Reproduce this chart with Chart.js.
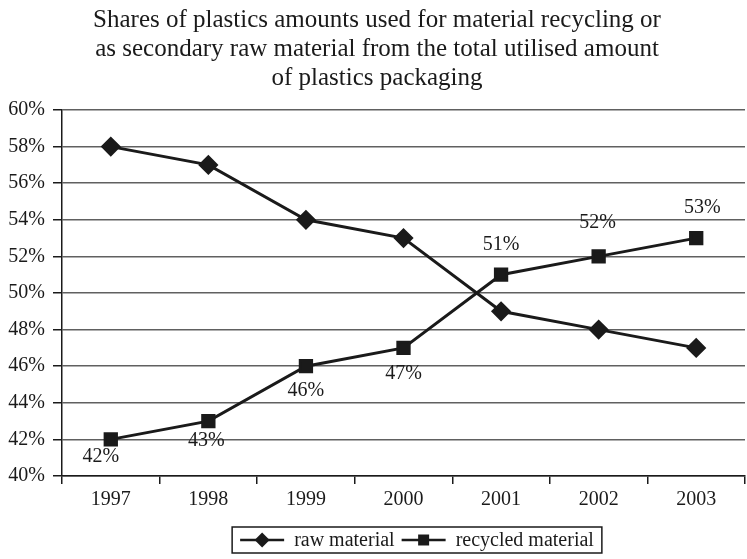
<!DOCTYPE html>
<html>
<head>
<meta charset="utf-8">
<script src="https://cdn.jsdelivr.net/npm/chart.js@4/dist/chart.umd.min.js"></script>
<style>
  html, body { margin: 0; padding: 0; background: #fff; overflow: hidden; }
  #wrap { width: 756px; height: 559px; position: relative; }
</style>
</head>
<body>
<div id="wrap"><canvas id="chart"></canvas></div>
<script>
// Years on the category axis
const years = ['1997', '1998', '1999', '2000', '2001', '2002', '2003'];
// Share (%) used as raw material
const rawMaterial = [58, 57, 54, 53, 49, 48, 47];
// Share (%) going to material recycling
const recycledMaterial = [42, 43, 46, 47, 51, 52, 53];
// Value-axis range and step (%)
const yMin = 40;
const yMax = 60;
const yStep = 2;
// Title, one entry per line
const titleLines = [
  'Shares of plastics amounts used for material recycling or',
  'as secondary raw material from the total utilised amount',
  'of plastics packaging'
];
const seriesNames = ['raw material', 'recycled material'];

const SERIF = "'Liberation Serif', 'Times New Roman', Times, serif";
const INK = '#1a1a1a';

// Where each recycled-material value label sits relative to its marker
const recycledLabelOffsets = [
  [-10, 17], [-2, 20], [0, 25], [0, 26], [0, -30], [-1, -34], [6, -30]
];

// Value labels next to the recycled-material markers
const valueLabels = {
  id: 'valueLabels',
  afterDatasetsDraw(chart, args, opts) {
    const meta = chart.getDatasetMeta(opts.datasetIndex);
    const data = chart.data.datasets[opts.datasetIndex].data;
    const ctx = chart.ctx;
    ctx.save();
    ctx.font = '20px ' + SERIF;
    ctx.fillStyle = INK;
    ctx.textAlign = 'center';
    ctx.textBaseline = 'middle';
    meta.data.forEach((pt, i) => {
      const off = opts.offsets[i] || [0, 0];
      ctx.fillText(data[i] + '%', pt.x + off[0], pt.y + off[1]);
    });
    ctx.restore();
  }
};

// Boxed legend with line-and-marker keys
const boxedLegend = {
  id: 'boxedLegend',
  afterDraw(chart, args, opts) {
    const ctx = chart.ctx;
    ctx.save();
    ctx.font = '20px ' + SERIF;
    const symW = 44, textGap = 10, itemGap = 7, padX = 8;
    const items = chart.data.datasets.map(ds => ({
      label: ds.label,
      style: ds.pointStyle,
      w: symW + textGap + ctx.measureText(ds.label).width
    }));
    const total = items.reduce((s, it) => s + it.w, 0) + itemGap * (items.length - 1);
    let x = opts.centerX - total / 2;
    const top = opts.top, h = opts.height, mid = top + h / 2;
    ctx.strokeStyle = INK;
    ctx.lineWidth = 1.5;
    ctx.strokeRect(x - padX, top, total + padX * 2, h);
    items.forEach(it => {
      ctx.strokeStyle = INK;
      ctx.fillStyle = INK;
      ctx.lineWidth = 2.5;
      ctx.beginPath();
      ctx.moveTo(x, mid);
      ctx.lineTo(x + symW, mid);
      ctx.stroke();
      const cx = x + symW / 2;
      ctx.beginPath();
      if (it.style === 'rectRot') {
        ctx.moveTo(cx, mid - 7.5);
        ctx.lineTo(cx + 7.5, mid);
        ctx.lineTo(cx, mid + 7.5);
        ctx.lineTo(cx - 7.5, mid);
        ctx.closePath();
      } else {
        ctx.rect(cx - 5.5, mid - 5.5, 11, 11);
      }
      ctx.fill();
      ctx.textAlign = 'left';
      ctx.textBaseline = 'middle';
      ctx.fillText(it.label, x + symW + textGap, mid + 1);
      x += it.w + itemGap;
    });
    ctx.restore();
  }
};

new Chart(document.getElementById('chart'), {
  type: 'line',
  data: {
    labels: years,
    datasets: [
      {
        label: seriesNames[0],
        data: rawMaterial,
        borderColor: INK,
        backgroundColor: INK,
        borderWidth: 3,
        pointStyle: 'rectRot',
        pointRadius: 8,
        pointHoverRadius: 8,
        tension: 0
      },
      {
        label: seriesNames[1],
        data: recycledMaterial,
        borderColor: INK,
        backgroundColor: INK,
        borderWidth: 3,
        pointStyle: 'rect',
        pointRadius: 8,
        pointHoverRadius: 8,
        tension: 0
      }
    ]
  },
  options: {
    responsive: true,
    maintainAspectRatio: false,
    animation: false,
    events: [],
    layout: { padding: { left: 0, right: 2, top: 6, bottom: 38 } },
    plugins: {
      legend: { display: false },
      tooltip: { enabled: false },
      title: {
        display: true,
        text: titleLines,
        color: INK,
        font: { family: SERIF, size: 25, weight: 'normal', lineHeight: 1.16 },
        padding: { top: 0, bottom: 17 }
      },
      valueLabels: { datasetIndex: 1, offsets: recycledLabelOffsets },
      boxedLegend: { centerX: 417, top: 527, height: 26 }
    },
    scales: {
      x: {
        offset: true,
        grid: {
          display: true,
          offset: true,
          drawOnChartArea: false,
          tickLength: 8,
          color: INK,
          lineWidth: 1.5
        },
        border: { color: INK, width: 1.5 },
        ticks: {
          color: INK,
          font: { family: SERIF, size: 20 },
          padding: 4,
          maxRotation: 0
        },
        afterFit(scale) { scale.height = 45; }
      },
      y: {
        min: yMin,
        max: yMax,
        grid: {
          color: '#606060',
          lineWidth: 1.5,
          tickColor: INK,
          tickLength: 9
        },
        border: { color: INK, width: 1.5 },
        ticks: {
          stepSize: yStep,
          color: INK,
          padding: 8,
          font: { family: SERIF, size: 20 },
          callback: v => v + '%'
        },
        afterFit(scale) { scale.width = 62; }
      }
    }
  },
  plugins: [valueLabels, boxedLegend]
});
</script>
</body>
</html>
